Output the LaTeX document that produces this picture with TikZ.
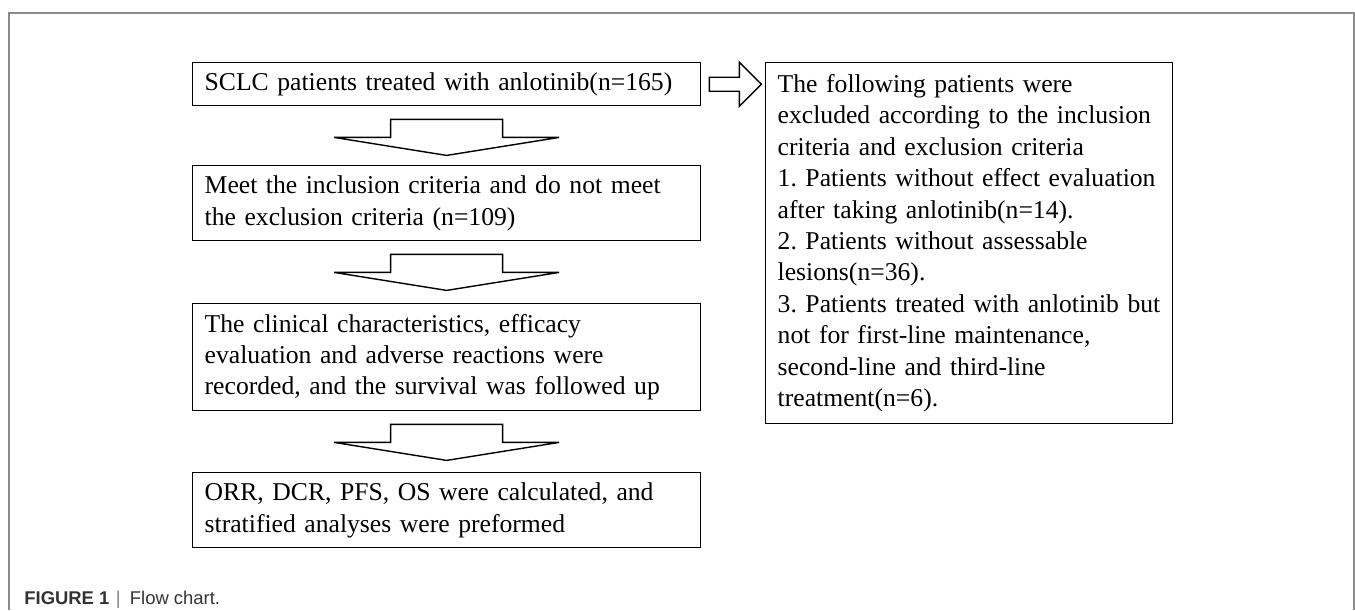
\documentclass[tikz,border=0pt]{standalone}
\usepackage{fontspec}
\setmainfont{Liberation Serif}
\newfontfamily\figcapfont{Liberation Sans}
\usetikzlibrary{calc}
\frenchspacing

\tikzset{
  flowbox/.style={draw, line width=0.8pt, anchor=north west, inner xsep=0.24cm, inner ysep=0pt,
    align=left, font=\fontsize{14.6}{17.9}\selectfont},
  blockarrow/.style={draw, line width=0.8pt, line join=miter},
}

\begin{document}
\begin{tikzpicture}[x=0.02cm,y=-0.02cm]
\useasboundingbox (0,0) rectangle (1355,610);
\draw[black!45,line width=0.9pt] (9,610) -- (9,13) -- (1354,13) -- (1354,610);
%
\node[flowbox, text width=9.68cm, minimum height=0.86cm] (start) at (192,62) {SCLC patients treated with anlotinib(n=165)};
\node[flowbox, text width=9.68cm, minimum height=1.5cm] (meet) at (192,165) {Meet the inclusion criteria and do not meet\\the exclusion criteria (n=109)};
\node[flowbox, text width=9.68cm, minimum height=2.14cm] (record) at (192,303) {The clinical characteristics, efficacy\\evaluation and adverse reactions were\\recorded, and the survival was followed up};
\node[flowbox, text width=9.68cm, minimum height=1.5cm] (calc) at (192,472) {ORR, DCR, PFS, OS were calculated, and\\stratified analyses were preformed};
%
\node[flowbox, text width=7.66cm, minimum height=7.22cm] (excl) at (765,62) {The following patients were\\excluded according to the inclusion\\criteria and exclusion criteria\\1. Patients without effect evaluation\\after taking anlotinib(n=14).\\2. Patients without assessable\\lesions(n=36).\\3. Patients treated with anlotinib but\\not for first-line maintenance,\\second-line and third-line\\treatment(n=6).};
%
\foreach \a in {start,meet,record}
  \draw[blockarrow] ($(\a.south)+(-56,13)$) -- ++(112,0) -- ++(0,18) -- ++(56.5,0) -- ++(-112.5,18) -- ++(-112.5,-18) -- ++(56.5,0) -- cycle;
%
\draw[blockarrow] ($(start.east)+(8,-7)$) -- ++(30,0) -- ++(0,-15) -- ++(22,22) -- ++(-22,22) -- ++(0,-15) -- ++(-30,0) -- cycle;
%
\node[anchor=base west, inner sep=0, text=black!80, font=\fontsize{10.5}{12}\selectfont\figcapfont] (cap) at (24,604) {\textbf{FIGURE 1}\hspace{0.35em}{\color{black!50}|}\enspace Flow chart.};
\end{tikzpicture}
\end{document}
